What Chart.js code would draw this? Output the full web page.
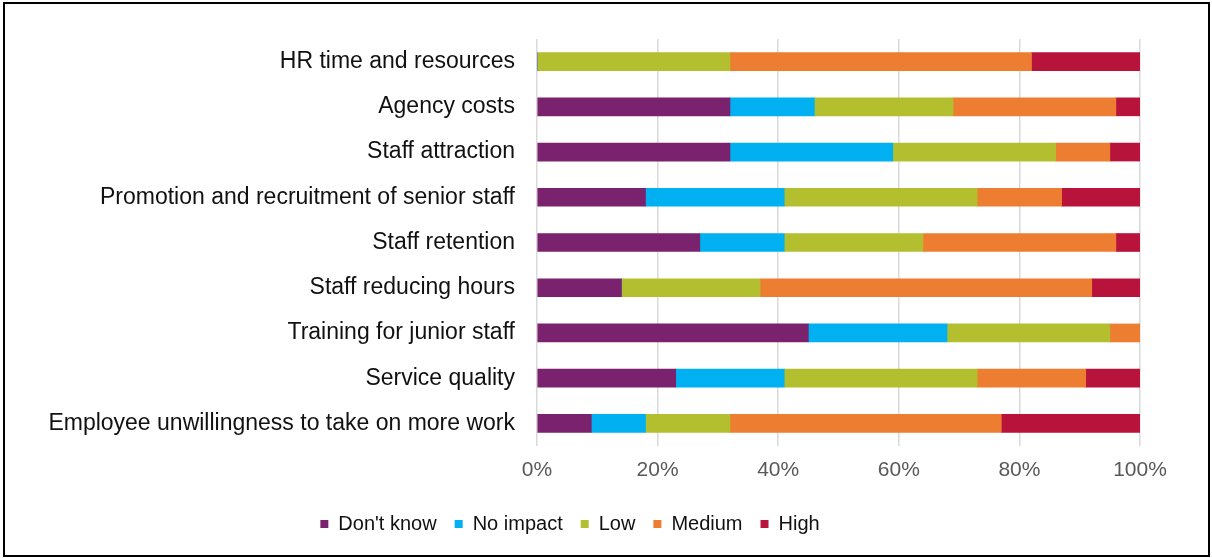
<!DOCTYPE html>
<html>
<head>
<meta charset="utf-8">
<script src="https://cdn.jsdelivr.net/npm/chart.js@4.4.1/dist/chart.umd.min.js"></script>
<style>
  html, body { margin: 0; padding: 0; background: #fff; }
  #wrap { width: 1212px; height: 558px; position: relative; }
</style>
</head>
<body>
<div id="wrap"><canvas id="chart"></canvas></div>
<script>
// Categories, top to bottom
const categories = [
  "HR time and resources",
  "Agency costs",
  "Staff attraction",
  "Promotion and recruitment of senior staff",
  "Staff retention",
  "Staff reducing hours",
  "Training for junior staff",
  "Service quality",
  "Employee unwillingness to take on more work",
];

// Share of responses (%) per category
const dontKnow = [0, 32, 32, 18, 27, 14, 45, 23, 9];
const noImpact = [0, 14, 27, 23, 14, 0, 23, 18, 9];
const low      = [32, 23, 27, 32, 23, 23, 27, 32, 14];
const medium   = [50, 27, 9, 14, 32, 55, 5, 18, 45];
const high     = [18, 4, 5, 13, 4, 8, 0, 9, 23];

const tickValues = [0, 20, 40, 60, 80, 100];

const seriesNames = ["Don't know", "No impact", "Low", "Medium", "High"];
const seriesColors = ["#7A226E", "#00B0F0", "#B3BF2E", "#ED7D31", "#B8133A"];
const seriesData = [dontKnow, noImpact, low, medium, high];

// Black frame round the whole picture
const framePlugin = {
  id: "frame",
  afterDraw(chart) {
    const ctx = chart.ctx;
    ctx.save();
    ctx.strokeStyle = "#000";
    ctx.lineWidth = 2;
    ctx.strokeRect(4, 3, 1205, 553);
    ctx.restore();
  },
};

const data = {
  labels: categories,
  datasets: seriesData.map((values, i) => ({
    label: seriesNames[i],
    data: values,
    backgroundColor: seriesColors[i],
    borderWidth: 0,
    barThickness: 18,
  })),
};

const options = {
  indexAxis: "y",
  responsive: true,
  maintainAspectRatio: false,
  animation: false,
  layout: {
    padding: { top: 39, right: 72, bottom: 14, left: 0 },
  },
  plugins: {
    tooltip: { enabled: false },
    legend: {
      display: true,
      position: "bottom",
      labels: {
        boxWidth: 8,
        boxHeight: 8,
        padding: 18,
        color: "#111",
        font: { family: "'Liberation Sans', Arial, sans-serif", size: 20 },
      },
    },
  },
  scales: {
    x: {
      stacked: true,
      min: 0,
      max: 100,
      afterBuildTicks: (scale) => {
        scale.ticks = tickValues.map((v) => ({ value: v }));
      },
      afterFit: (scale) => {
        scale.height = 50;
      },
      grid: {
        color: "#d9d9d9",
        lineWidth: 1.5,
        drawTicks: false,
      },
      border: { display: false },
      ticks: {
        padding: 12,
        color: "#595959",
        font: { family: "'Liberation Sans', Arial, sans-serif", size: 21 },
        callback: (v) => v + "%",
      },
    },
    y: {
      stacked: true,
      afterFit: (scale) => {
        scale.width = 537;
      },
      grid: { display: false, drawTicks: false },
      border: { display: false },
      ticks: {
        padding: 22,
        color: "#111",
        font: { family: "'Liberation Sans', Arial, sans-serif", size: 23 },
      },
    },
  },
};

new Chart(document.getElementById("chart"), {
  type: "bar",
  data: data,
  options: options,
  plugins: [framePlugin],
});
</script>
</body>
</html>
